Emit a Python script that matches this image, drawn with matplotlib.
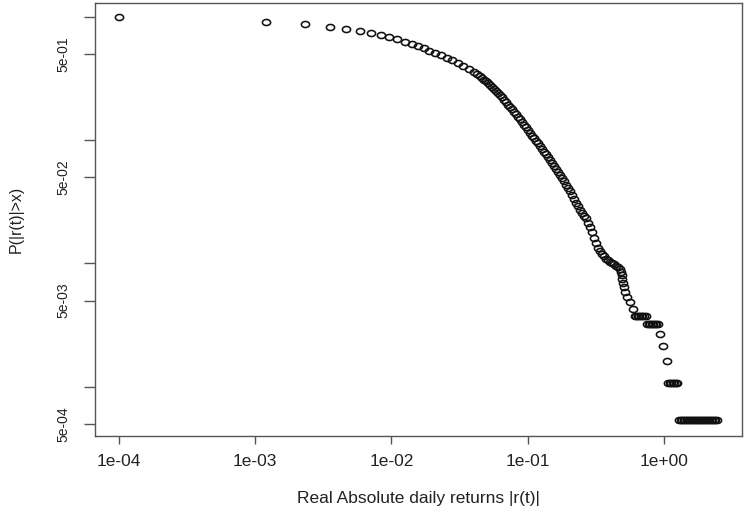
import numpy as np
import matplotlib
matplotlib.use("Agg")
import matplotlib.pyplot as plt
from matplotlib.path import Path

# ---------------- data ----------------
# sparse left part of the curve
sparse_x = [1.0e-4, 1.199e-3, 2.33e-3, 3.54e-3, 4.64e-3, 5.92e-3, 7.07e-3, 8.31e-3,
            9.63e-3, 1.107e-2, 1.256e-2, 1.407e-2, 1.557e-2, 1.723e-2, 1.894e-2,
            2.086e-2, 2.308e-2, 2.542e-2, 2.794e-2, 3.076e-2, 3.365e-2, 3.706e-2,
            4.053e-2, 4.242e-2]
sparse_p = [0.997, 0.909, 0.876, 0.833, 0.798, 0.765, 0.740, 0.716, 0.687, 0.658,
            0.629, 0.603, 0.581, 0.556, 0.532, 0.510, 0.488, 0.467, 0.444, 0.4227,
            0.4018, 0.380, 0.359, 0.347]

# dense middle part of the curve
curve_x = [0.04462, 0.04615, 0.04774, 0.04938, 0.05108, 0.05283, 0.05465, 0.05653,
           0.05847, 0.06048, 0.06256, 0.06471, 0.06693, 0.06923, 0.07161, 0.07407,
           0.07662, 0.07925, 0.08198, 0.08480, 0.08771, 0.09073, 0.09385, 0.09707,
           0.1004, 0.1039, 0.1074, 0.1111, 0.1149, 0.1189, 0.1230, 0.1272, 0.1316,
           0.1361, 0.1408, 0.1456, 0.1506, 0.1558, 0.1612, 0.1667, 0.1724, 0.1784,
           0.1845, 0.1908, 0.1974, 0.2042, 0.2112, 0.2185, 0.2260, 0.2337, 0.2418,
           0.2501, 0.2587, 0.2676, 0.2768, 0.2863, 0.2961, 0.3063, 0.3168, 0.3277,
           0.3390, 0.3507, 0.3627, 0.3752, 0.3881, 0.4014, 0.4152, 0.4295, 0.4443,
           0.4595, 0.4753]
curve_p = [0.3316, 0.3206, 0.3100, 0.2998, 0.2899, 0.2803, 0.2700, 0.2601, 0.2506,
           0.2414, 0.2326, 0.2223, 0.2126, 0.2032, 0.1943, 0.1858, 0.1776, 0.1698,
           0.1624, 0.1553, 0.1485, 0.1409, 0.1337, 0.1269, 0.1205, 0.1143, 0.1089,
           0.1037, 0.0988, 0.0941, 0.0897, 0.0851, 0.0808, 0.0767, 0.0728, 0.0690,
           0.0653, 0.0617, 0.0584, 0.0552, 0.0522, 0.0492, 0.0463, 0.0436, 0.0411,
           0.0387, 0.0359, 0.0333, 0.0309, 0.0290, 0.0274, 0.0259, 0.0245, 0.0232,
           0.0215, 0.0197, 0.0180, 0.0162, 0.0146, 0.01346, 0.01267, 0.01194,
           0.01145, 0.01097, 0.01061, 0.01036, 0.01009, 0.00983, 0.00957, 0.00931,
           0.00902]

# isolated tail points
tail_x = [0.4875, 0.4917, 0.4959, 0.5026, 0.5129, 0.5216, 0.5323, 0.5628, 0.5921,
          0.935, 0.978, 1.047]
tail_p = [0.00860, 0.00806, 0.00753, 0.00699, 0.00645, 0.00591, 0.00538, 0.00484,
          0.00430, 0.002688, 0.002151, 0.001613]

# flat runs in the tail (same probability over a range of x)
band7_x = [0.6125, 0.6283, 0.6445, 0.6609, 0.6781, 0.6955, 0.7133, 0.7378]
band7_p = 0.003763
band6_x = [0.7567, 0.7760, 0.7961, 0.8166, 0.8375, 0.8590, 0.8811, 0.9036]
band6_p = 0.003226
band2_x = [1.079, 1.107, 1.135, 1.164, 1.194, 1.225, 1.256]
band2_p = 0.001075
band1_x = [1.2996, 1.3330, 1.3673, 1.4025, 1.4385, 1.4755, 1.5134, 1.5523, 1.5921,
           1.6330, 1.6750, 1.7181, 1.7622, 1.8075, 1.8540, 1.9016, 1.9505, 2.0006,
           2.0520, 2.1037, 2.1578, 2.2133, 2.2701, 2.3284, 2.3882, 2.4496]
band1_p = 0.000538

x_ticks = [1e-4, 1e-3, 1e-2, 1e-1, 1.0]
x_tick_labels = ["1e-04", "1e-03", "1e-02", "1e-01", "1e+00"]
y_ticks = [1.0, 0.5, 0.1, 0.05, 0.01, 0.005, 0.001, 0.0005]
y_tick_labels = ["", "5e-01", "", "5e-02", "", "5e-03", "", "5e-04"]

# ---------------- assemble ----------------
xs = np.concatenate([sparse_x, curve_x, tail_x, band7_x, band6_x, band2_x, band1_x])
ps = np.concatenate([sparse_p, curve_p, tail_p,
                     np.full(len(band7_x), band7_p), np.full(len(band6_x), band6_p),
                     np.full(len(band2_x), band2_p), np.full(len(band1_x), band1_p)])

# ---------------- figure ----------------
W, H = 747, 514
fig = plt.figure(figsize=(W / 100, H / 100), dpi=100)
L, R, T, B = 95, 742, 3, 436
ax = fig.add_axes([L / W, (H - B) / H, (R - L) / W, (B - T) / H])

# slightly wide open ellipse marker (reference is horizontally stretched)
th = np.linspace(0, 2 * np.pi, 41)
ell = Path(np.column_stack([1.35 * np.cos(th), np.sin(th)]), closed=True)

ax.plot(xs, ps, linestyle="none", marker=ell, markersize=5.9,
        markerfacecolor="none", markeredgecolor="#111111", markeredgewidth=1.15)

ax.set_xscale("log")
ax.set_yscale("log")
ax.set_xlim(6.67e-5, 3.74)
ax.set_ylim(3.99e-4, 1.296)

ax.minorticks_off()
ax.set_xticks(x_ticks)
ax.set_xticklabels(x_tick_labels, fontfamily="Liberation Sans", fontsize=12.5, color="#222222")
ax.set_yticks(y_ticks)
ax.set_yticklabels(y_tick_labels, fontfamily="Liberation Sans", fontsize=10,
                   rotation=90, va="center", color="#222222")
ax.tick_params(axis="x", direction="out", length=6, width=1.0, color="#555555", pad=7)
ax.tick_params(axis="y", direction="out", length=8, width=1.0, color="#555555", pad=10)
ax.yaxis.set_minor_locator(matplotlib.ticker.NullLocator())
ax.xaxis.set_minor_locator(matplotlib.ticker.NullLocator())

for s in ax.spines.values():
    s.set_color("#555555")
    s.set_linewidth(1.0)

ax.set_xlabel("Real Absolute daily returns |r(t)|", fontfamily="Liberation Sans",
              fontsize=12.5, color="#222222")
ax.xaxis.set_label_coords(0.5, (B - 499) / (B - T))
ax.xaxis.label.set_va("center")
ax.set_ylabel("P(|r(t)|>x)", fontfamily="Liberation Sans", fontsize=11.5, color="#222222")
ax.yaxis.set_label_coords((16 - L) / (R - L), 0.5)
ax.yaxis.label.set_va("center")

fig.savefig("out.png", dpi=100, facecolor="white")
